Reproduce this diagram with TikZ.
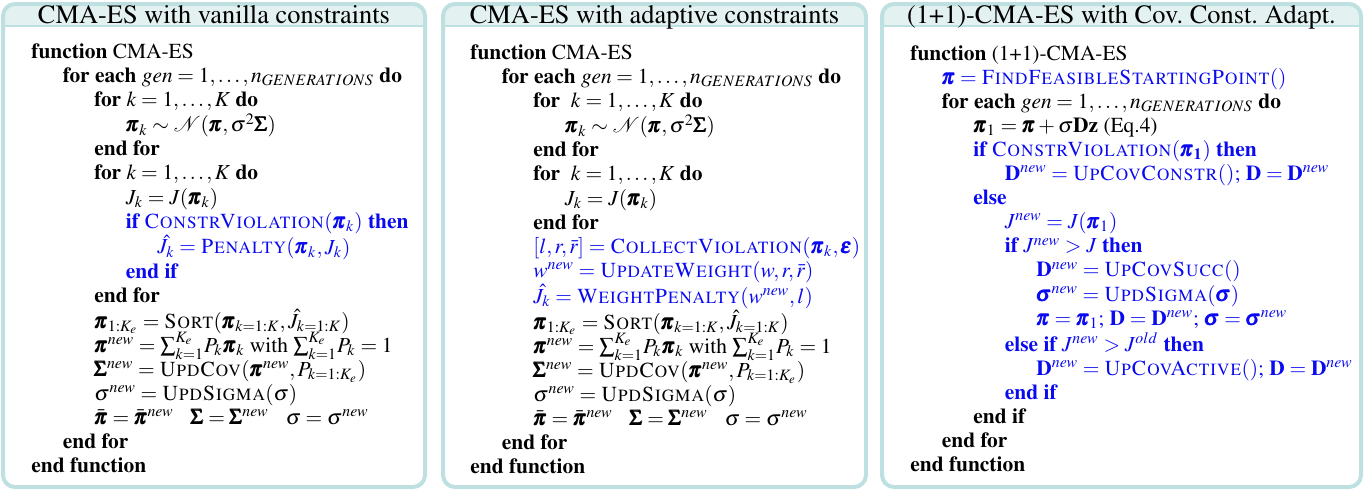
\documentclass[tikz,border=0pt]{standalone}
\usepackage[T1]{fontenc}
\usepackage{amsmath}
\usepackage{mathptmx}
\usepackage{xcolor}
\usepackage{tikz}
\usetikzlibrary{positioning}
\definecolor{panelline}{RGB}{190,224,224}
\definecolor{panelfill}{RGB}{228,241,241}
\definecolor{algblue}{RGB}{10,10,240}
\newcommand{\bpi}{\pmb{\pi}}
\newcommand{\bSig}{\pmb{\Sigma}}
\newcommand{\bsig}{\pmb{\sigma}}
\newcommand{\algind}[1]{\hspace*{#1\dimexpr15.75pt\relax}}
\newcommand{\kw}[1]{\textbf{#1}}
\newcommand{\gap}{\hspace{0.8em}}

\begin{document}
\begin{tikzpicture}[x=0.5pt,y=-0.5pt,
    panel/.style={draw=panelline,line width=2pt,rounded corners=6pt},
    paneltitle/.style={anchor=base,inner sep=0pt,font=\fontsize{13.2}{15}\selectfont},
    algo/.style={anchor=base west,inner sep=0pt,font=\fontsize{10.7}{12.05}\selectfont}]
\useasboundingbox (0,0) rectangle (1369,493);
% frames with a title band
\foreach \xa/\xb in {3/425,443/866,882/1361}{
  \fill[panelfill,rounded corners=6pt] (\xa,4) rectangle (\xb,40);
  \fill[white] (\xa,26) rectangle (\xb,48);
  \draw[panelline,line width=1pt] (\xa,26) -- (\xb,26);
  \draw[panel] (\xa,4) rectangle (\xb,487);
}
\node[paneltitle] (vanillatitle) at (214,23) {CMA-ES with vanilla constraints};
\node[paneltitle] (adaptivetitle) at (654.5,23) {CMA-ES with adaptive constraints};
\node[paneltitle] (covtitle) at (1121.5,23) {(1+1)-CMA-ES with Cov.\ Const.\ Adapt.};

% vanilla constraints
\node[algo] (vanilla) at (31,58) {\begin{tabular}[t]{@{}l@{}}
\kw{function} CMA-ES\\
\algind1\kw{for each} $gen=1,\ldots,n_{GENERATIONS}$ \kw{do}\\
\algind2\kw{for} $k=1,\ldots,K$ \kw{do}\\
\algind3$\bpi_k\sim\mathcal{N}(\bpi,\sigma^2\bSig)$\\
\algind2\kw{end for}\\
\algind2\kw{for} $k=1,\ldots,K$ \kw{do}\\
\algind3$J_k=J(\bpi_k)$\\
\algind3{\color{algblue}\kw{if} \textsc{ConstrViolation}$(\bpi_k)$ \kw{then}}\\
\algind4{\color{algblue}$\hat{J}_k=\textsc{Penalty}(\bpi_k,J_k)$}\\
\algind3{\color{algblue}\kw{end if}}\\
\algind2\kw{end for}\\
\algind2$\bpi_{1:K_e}=\textsc{Sort}(\bpi_{k=1:K},\hat{J}_{k=1:K})$\\
\algind2$\bpi^{new}=\smash{\sum_{k=1}^{K_e}}P_k\bpi_k$ with $\smash{\sum_{k=1}^{K_e}}P_k=1$\\
\algind2$\bSig^{new}=\textsc{UpdCov}(\bpi^{new},P_{k=1:K_e})$\\
\algind2$\sigma^{new}=\textsc{UpdSigma}(\sigma)$\\
\algind2$\bar{\bpi}=\bar{\bpi}^{new}$\gap$\bSig=\bSig^{new}$\gap$\sigma=\sigma^{new}$\\
\algind1\kw{end for}\\
\kw{end function}
\end{tabular}};

% adaptive constraints
\node[algo] (adaptive) at (470,59) {\begin{tabular}[t]{@{}l@{}}
\kw{function} CMA-ES\\
\algind1\kw{for each} $gen=1,\ldots,n_{GENERATIONS}$ \kw{do}\\
\algind2\kw{for}\ \ $k=1,\ldots,K$ \kw{do}\\
\algind3$\bpi_k\sim\mathcal{N}(\bpi,\sigma^2\bSig)$\\
\algind2\kw{end for}\\
\algind2\kw{for}\ \ $k=1,\ldots,K$ \kw{do}\\
\algind3$J_k=J(\bpi_k)$\\
\algind2\kw{end for}\\
\algind2{\color{algblue}$[l,r,\bar{r}]=\textsc{CollectViolation}(\bpi_k,\pmb{\varepsilon})$}\\
\algind2{\color{algblue}$w^{new}=\textsc{UpdateWeight}(w,r,\bar{r})$}\\
\algind2{\color{algblue}$\hat{J}_k=\textsc{WeightPenalty}(w^{new},l)$}\\
\algind2$\bpi_{1:K_e}=\textsc{Sort}(\bpi_{k=1:K},\hat{J}_{k=1:K})$\\
\algind2$\bpi^{new}=\smash{\sum_{k=1}^{K_e}}P_k\bpi_k$ with $\smash{\sum_{k=1}^{K_e}}P_k=1$\\
\algind2$\bSig^{new}=\textsc{UpdCov}(\bpi^{new},P_{k=1:K_e})$\\
\algind2$\sigma^{new}=\textsc{UpdSigma}(\sigma)$\\
\algind2$\bar{\bpi}=\bar{\bpi}^{new}$\gap$\bSig=\bSig^{new}$\gap$\sigma=\sigma^{new}$\\
\algind1\kw{end for}\\
\kw{end function}
\end{tabular}};

% (1+1)-CMA-ES
\node[algo] (covadapt) at (910,60) {\begin{tabular}[t]{@{}l@{}}
\kw{function} (1+1)-CMA-ES\\
\algind1{\color{algblue}$\bpi=\textsc{FindFeasibleStartingPoint}()$}\\
\algind1\kw{for each} $gen=1,\ldots,n_{GENERATIONS}$ \kw{do}\\
\algind2$\bpi_1=\bpi+\sigma\mathbf{Dz}$ (Eq.4)\\
\algind2{\color{algblue}\kw{if} \textsc{ConstrViolation}$(\bpi_{\mathbf{1}})$ \kw{then}}\\
\algind3{\color{algblue}$\mathbf{D}^{new}=\textsc{UpCovConstr}()$; $\mathbf{D}=\mathbf{D}^{new}$}\\
\algind2{\color{algblue}\kw{else}}\\
\algind3{\color{algblue}$J^{new}=J(\bpi_1)$}\\
\algind3{\color{algblue}\kw{if} $J^{new}>J$ \kw{then}}\\
\algind4{\color{algblue}$\mathbf{D}^{new}=\textsc{UpCovSucc}()$}\\
\algind4{\color{algblue}$\bsig^{new}=\textsc{UpdSigma}(\bsig)$}\\
\algind4{\color{algblue}$\bpi=\bpi_1$; $\mathbf{D}=\mathbf{D}^{new}$; $\bsig=\bsig^{new}$}\\
\algind3{\color{algblue}\kw{else if} $J^{new}>J^{old}$ \kw{then}}\\
\algind4{\color{algblue}$\mathbf{D}^{new}=\textsc{UpCovActive}()$; $\mathbf{D}=\mathbf{D}^{new}$}\\
\algind3{\color{algblue}\kw{end if}}\\
\algind2\kw{end if}\\
\algind1\kw{end for}\\
\kw{end function}
\end{tabular}};
\end{tikzpicture}
\end{document}
